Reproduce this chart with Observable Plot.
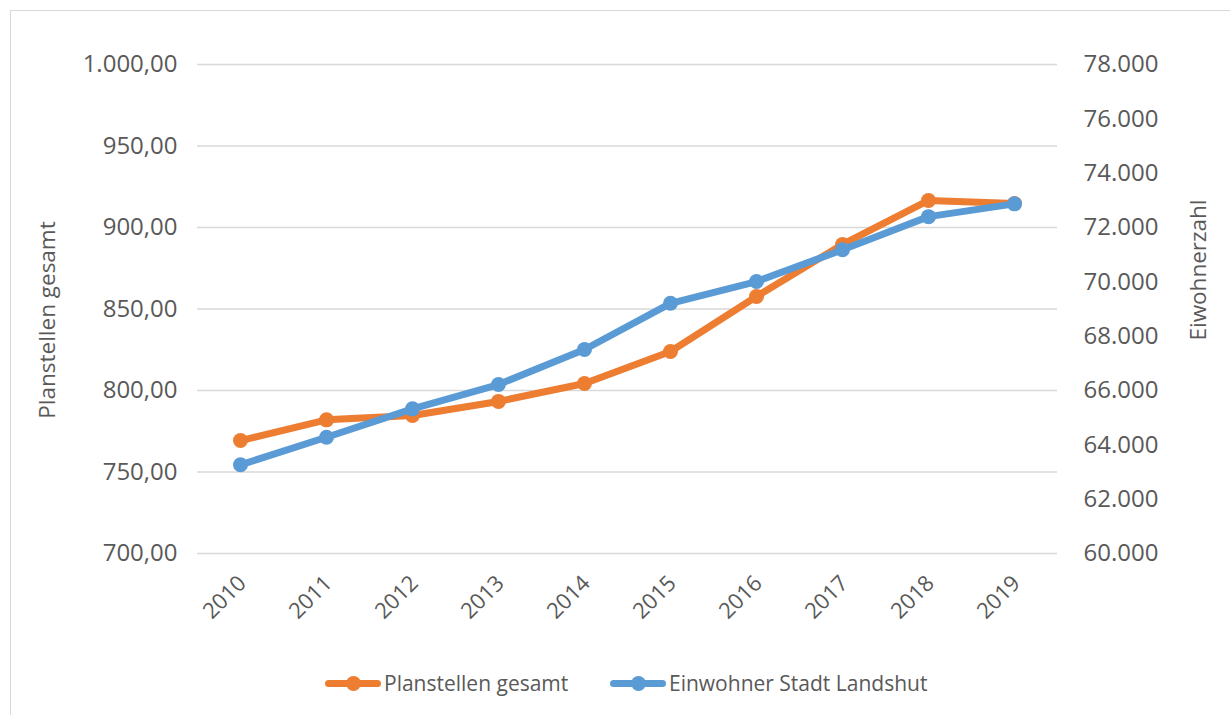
<!DOCTYPE html>
<html>
<head>
<meta charset="utf-8">
<script src="https://cdn.jsdelivr.net/npm/d3@7"></script>
<script src="https://cdn.jsdelivr.net/npm/@observablehq/plot@0.6"></script>
<style>
  html, body { margin: 0; padding: 0; background: #fff; }
  #wrap { position: relative; width: 1230px; height: 715px; overflow: hidden; }
  #frame { position: absolute; left: 10px; top: 10px; width: 1300px; height: 800px; border-left: 1.5px solid #d9d9d9; border-top: 1.5px solid #d9d9d9; }
  #legend { position: absolute; top: 669px; left: 0; width: 1230px; font-family: "Open Sans", sans-serif; font-size: 21px; color: #595959; }
  .item { position: absolute; display: flex; align-items: center; }
  .sw { position: relative; width: 56px; height: 7px; margin-right: 3px; }
  .sw span { position: absolute; left: 21px; top: -4px; width: 15px; height: 15px; border-radius: 50%; }
  .ttl { position: absolute; font-family: "Open Sans", sans-serif; font-size: 22.5px; color: #595959; white-space: nowrap; }
</style>
</head>
<body>
<div id="wrap">
  <div id="frame"></div>
  <div id="chart"></div>
  <div id="legend">
    <div class="item" style="left:325px;"><div class="sw" style="background:#ED7D31;border-radius:4px;"><span style="background:#ED7D31"></span></div>Planstellen gesamt</div>
    <div class="item" style="left:610px;"><div class="sw" style="background:#5B9BD5;border-radius:4px;"><span style="background:#5B9BD5"></span></div>Einwohner Stadt Landshut</div>
  </div>
  <div class="ttl" style="left:46px;top:320px;transform:translate(-50%,-50%) rotate(-90deg);">Planstellen gesamt</div>
  <div class="ttl" style="left:1197px;top:270px;transform:translate(-50%,-50%) rotate(-90deg);">Eiwohnerzahl</div>
</div>
<script>
const years = ["2010","2011","2012","2013","2014","2015","2016","2017","2018","2019"];
const planstellen = [769.3, 782.0, 784.7, 793.3, 804.3, 823.9, 857.7, 889.6, 916.6, 914.7];
const einwohner = [63265, 64280, 65325, 66220, 67510, 69210, 70010, 71180, 72400, 72870];
const leftTicks = [700, 750, 800, 850, 900, 950, 1000];
const rightTicks = [60000, 62000, 64000, 66000, 68000, 70000, 72000, 74000, 76000, 78000];

const de = d3.formatLocale({decimal: ",", thousands: ".", grouping: [3], currency: ["", "€"]});
const fmtL = de.format(",.2f");
const fmtR = de.format(",.0f");

// map right-axis values onto the left scale domain
const r2l = v => 700 + (v - 60000) / 18000 * 300;
const l2r = v => 60000 + (v - 700) / 300 * 18000;

const orange = years.map((y, i) => ({year: y, v: planstellen[i]}));
const blue = years.map((y, i) => ({year: y, v: r2l(einwohner[i])}));

const chart = Plot.plot({
  width: 1230,
  height: 715,
  marginLeft: 197,
  marginRight: 173,
  marginTop: 64,
  marginBottom: 162,
  style: {fontFamily: "'Open Sans', sans-serif", color: "#595959", background: "transparent", overflow: "visible"},
  x: {type: "point", domain: years, padding: 0.5},
  y: {domain: [700, 1000]},
  marks: [
    Plot.gridY(leftTicks, {stroke: "#d9d9d9", strokeOpacity: 1, strokeWidth: 1.5}),
    Plot.axisY(leftTicks, {anchor: "left", tickSize: 0, tickPadding: 20, tickFormat: fmtL, fontSize: 24, fill: "#595959", label: null}),
    Plot.axisY(rightTicks.map(r2l), {anchor: "right", tickSize: 0, tickPadding: 26, tickFormat: d => fmtR(Math.round(l2r(d))), fontSize: 24, fill: "#595959", label: null}),
    Plot.axisX(years, {anchor: "bottom", tickSize: 0, tickRotate: -45, tickPadding: 26, fontSize: 22, fill: "#595959", label: null, dx: 2}),
    Plot.line(orange, {x: "year", y: "v", stroke: "#ED7D31", strokeWidth: 7, strokeLinejoin: "round"}),
    Plot.dot(orange, {x: "year", y: "v", fill: "#ED7D31", r: 7.5}),
    Plot.line(blue, {x: "year", y: "v", stroke: "#5B9BD5", strokeWidth: 7, strokeLinejoin: "round"}),
    Plot.dot(blue, {x: "year", y: "v", fill: "#5B9BD5", r: 7.5})
  ]
});
chart.style.position = "absolute";
chart.style.left = "0px";
chart.style.top = "0px";
document.getElementById("chart").appendChild(chart);
</script>
</body>
</html>
